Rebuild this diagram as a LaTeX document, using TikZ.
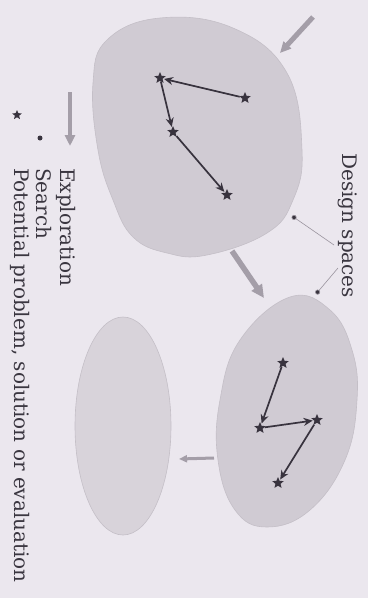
\documentclass[tikz,border=0pt]{standalone}
\usepackage{fontspec}
\setmainfont{DejaVu Serif}
\usetikzlibrary{arrows.meta,shapes.geometric}
\definecolor{bg}{HTML}{EBE7EE}
\definecolor{blobfill}{HTML}{D0CBD3}
\definecolor{blobfillb}{HTML}{D8D3DA}
\definecolor{blobedge}{HTML}{C4BFC7}
\definecolor{ink}{HTML}{38333E}
\definecolor{explore}{HTML}{A49EA8}
\definecolor{txt}{HTML}{3A3640}
\definecolor{ptrc}{HTML}{9A949E}
\begin{document}
\begin{tikzpicture}[x=1pt,y=-1pt,
  sp/.style={star,star points=5,star point ratio=2.2,fill=ink,inner sep=0pt,minimum size=12pt},
  dotpt/.style={circle,fill=ink,inner sep=0pt,minimum size=5pt},
  srch/.style={draw=ink,line width=1.7pt,-{Stealth[length=9pt,width=8pt]},shorten >=1pt},
  expl/.style={draw=explore,line width=4.5pt,-{Triangle[length=11pt,width=10pt]}},
  lbl/.style={rotate=-90,anchor=base west,text=txt,font=\fontsize{20}{24}\selectfont,inner sep=0pt},
  ptr/.style={draw=ptrc,line width=0.6pt,-{Circle[length=5pt,fill=ink]}},
  blob/.style={fill=blobfill,draw=blobedge,line width=0.6pt}
]
\fill[bg] (0,0) rectangle (368,598);
\useasboundingbox (0,0) rectangle (368,598);

% design spaces
\path[blob] plot[smooth cycle,tension=0.7] coordinates {(107,40) (160,18) (233,28) (287,73) (302,150) (293,200) (267,233) (207,255) (167,253) (133,237) (113,200) (98,150) (93,83)};
\path[blob] plot[smooth cycle,tension=0.7] coordinates {(290,297) (330,310) (352,350) (357,400) (345,460) (310,510) (267,527) (235,510) (218,460) (220,400) (240,340)};
\path[blob,fill=blobfillb] (123,426) ellipse [x radius=48, y radius=109];

% exploration arrows
\coordinate (e1s) at (313,17);  \coordinate (e1e) at (280,53);
\coordinate (e2s) at (232,251); \coordinate (e2e) at (264,298);
\coordinate (e3s) at (214,458); \coordinate (e3e) at (179,459);
\draw[expl,line width=5pt] (e1s) -- (e1e);
\draw[expl,line width=5.5pt,-{Triangle[length=13pt,width=12pt]}] (e2s) -- (e2e);
\draw[expl,line width=3pt,-{Triangle[length=8pt,width=7pt]}] (e3s) -- (e3e);

% search in space 1
\node[sp] (a1) at (245,98) {};
\node[sp] (a2) at (160,78) {};
\node[sp] (a3) at (173,132) {};
\node[sp] (a4) at (227,195) {};
\draw[srch] (a1) -- (a2);
\draw[srch] (a2) -- (a3);
\draw[srch] (a3) -- (a4);

% search in space 2
\node[sp] (b1) at (283,363) {};
\node[sp] (b2) at (260,428) {};
\node[sp] (b3) at (317,420) {};
\node[sp] (b4) at (278,483) {};
\draw[srch] (b1) -- (b2);
\draw[srch] (b2) -- (b3);
\draw[srch] (b3) -- (b4);

% design spaces label
\node[lbl] (ds) at (342,153) {Design spaces};
\coordinate (p1) at (334,245);
\coordinate (p2) at (338,268);
\coordinate (q1) at (292,216);
\coordinate (q2) at (316,294);
\draw[ptr] (p1) -- (q1);
\draw[ptr] (p2) -- (q2);

% legend
\coordinate (ls) at (70,92); \coordinate (le) at (70,146);
\draw[expl,line width=4pt] (ls) -- (le);
\node[dotpt] (ldot) at (40,138) {};
\node[sp,minimum size=10pt] (lstar) at (17,115) {};
\node[lbl] (t1) at (60,168) {Exploration};
\node[lbl] (t2) at (37,168) {Search};
\node[lbl] (t3) at (14,168) {Potential problem, solution or evaluation};
\end{tikzpicture}
\end{document}
